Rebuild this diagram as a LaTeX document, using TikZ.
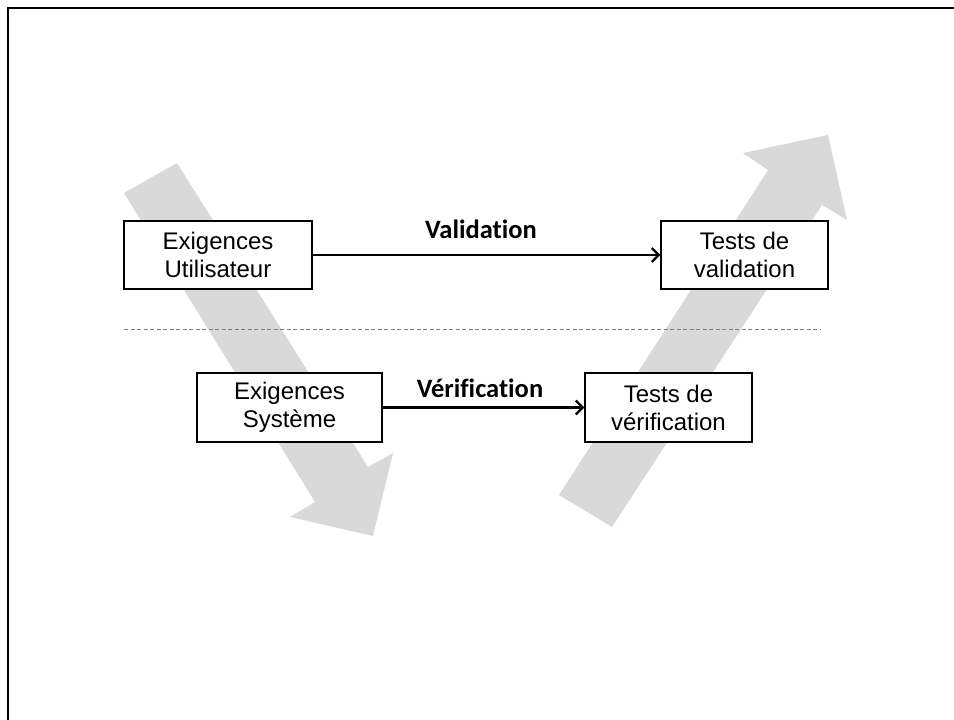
\documentclass[tikz,border=0pt]{standalone}
\usepackage{fontspec}
\setmainfont{Liberation Sans}
\newfontfamily\calib[Ligatures=NoCommon]{Carlito}
\usetikzlibrary{arrows.meta}
\definecolor{bandgrey}{HTML}{D9D9D9}
\definecolor{dashgrey}{HTML}{7F7F7F}
\tikzset{
  box/.style={draw=black, line width=1.3pt, fill=white, inner sep=0pt, align=center,
    font=\fontsize{24}{28}\selectfont},
  link/.style={line width=2.8pt, -{Straight Barb[length=7pt,width=14pt,line width=2.2pt]}},
  lab/.style={font=\calib\bfseries\fontsize{26.5}{30}\selectfont, inner sep=0pt},
  band/.style={fill=bandgrey, draw=none},
}
\begin{document}
\begin{tikzpicture}[x=1pt, y=-1pt]
\useasboundingbox (0,0) rectangle (954,720);
% frame
\draw[line width=2pt] (7.5,720) -- (7.5,7.5) -- (954,7.5);
% grey V arrows
\fill[band] (124,193) -- (177,163) -- (368,467) -- (393,453) -- (373,536) -- (290,517) -- (315,502) -- cycle;
\fill[band] (559,495) -- (612,527) -- (822,205) -- (847,220) -- (828,135) -- (743,153) -- (768,170) -- cycle;
% dashed separator
\coordinate (dl) at (124,329.5);
\coordinate (dr) at (820,329.5);
\draw[dashgrey, line width=1pt, dash pattern=on 4pt off 2.5pt] (dl) -- (dr);
% boxes
\node[box, minimum width=188pt, minimum height=68pt] (eu) at (218,255) {Exigences\\Utilisateur};
\node[box, minimum width=167pt, minimum height=68pt] (tv) at (744.5,255) {Tests de\\validation};
\node[box, minimum width=185pt, minimum height=69pt] (es) at (289.5,407.5) {Exigences\\Système};
\node[box, minimum width=167pt, minimum height=69pt] (tf) at (668.5,407.5) {Tests de\\vérification};
% connectors
\draw[link] (eu.east) -- (tv.west);
\draw[link] (es.east) -- (tf.west);
% labels
\node[lab] (lv) at (481,229) {Validation};
\node[lab] (lf) at (480,388) {Vérification};
\end{tikzpicture}
\end{document}
